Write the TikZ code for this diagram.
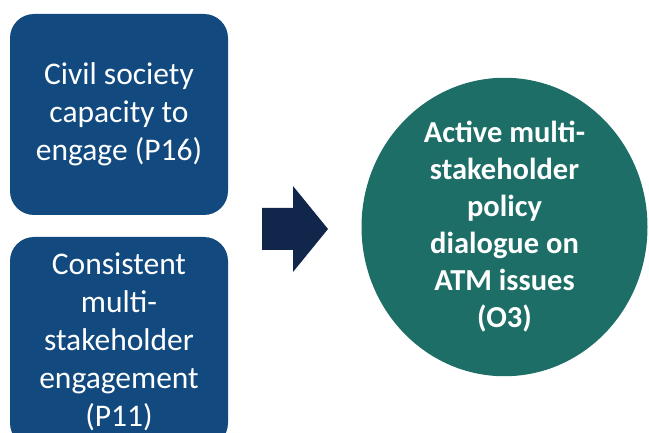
\documentclass[tikz,border=0pt]{standalone}
\usepackage{fontspec}
\setmainfont{Carlito}
\usepackage{tikz}
\usetikzlibrary{shapes.geometric}
\definecolor{boxblue}{HTML}{124A7F}
\definecolor{goalteal}{HTML}{1C6E66}
\definecolor{arrownavy}{HTML}{10264A}

\begin{document}
\begin{tikzpicture}[x=1pt,y=1pt,
  box/.style={fill=boxblue, rounded corners=24pt, text=white, align=center,
    font=\fontsize{31.5}{38}\selectfont, minimum width=218pt, inner sep=0pt},
  goal/.style={ellipse, fill=goalteal, text=white, align=center,
    font=\bfseries\fontsize{30.5}{37}\selectfont, minimum width=286pt,
    minimum height=260pt, inner sep=0pt}]
  \useasboundingbox (0,0) rectangle (649,432);
  \clip (0,0) rectangle (649,432);
  % left column
  \node[box, minimum height=201pt] (p16) at (119,317.5)
    {Civil society\\capacity to\\engage (P16)};
  \node[box, minimum height=210pt] (p11) at (119,90)
    {Consistent\\multi-\\stakeholder\\engagement\\(P11)};
  % block arrow
  \fill[arrownavy] (262,182) -- (293,182) -- (293,160) -- (328,203)
    -- (293,246) -- (293,224) -- (262,224) -- cycle;
  % outcome
  \node[goal] (o3) at (504.5,205)
    {Active multi-\\stakeholder\\policy\\dialogue on\\ATM issues\\(O3)};
\end{tikzpicture}
\end{document}
